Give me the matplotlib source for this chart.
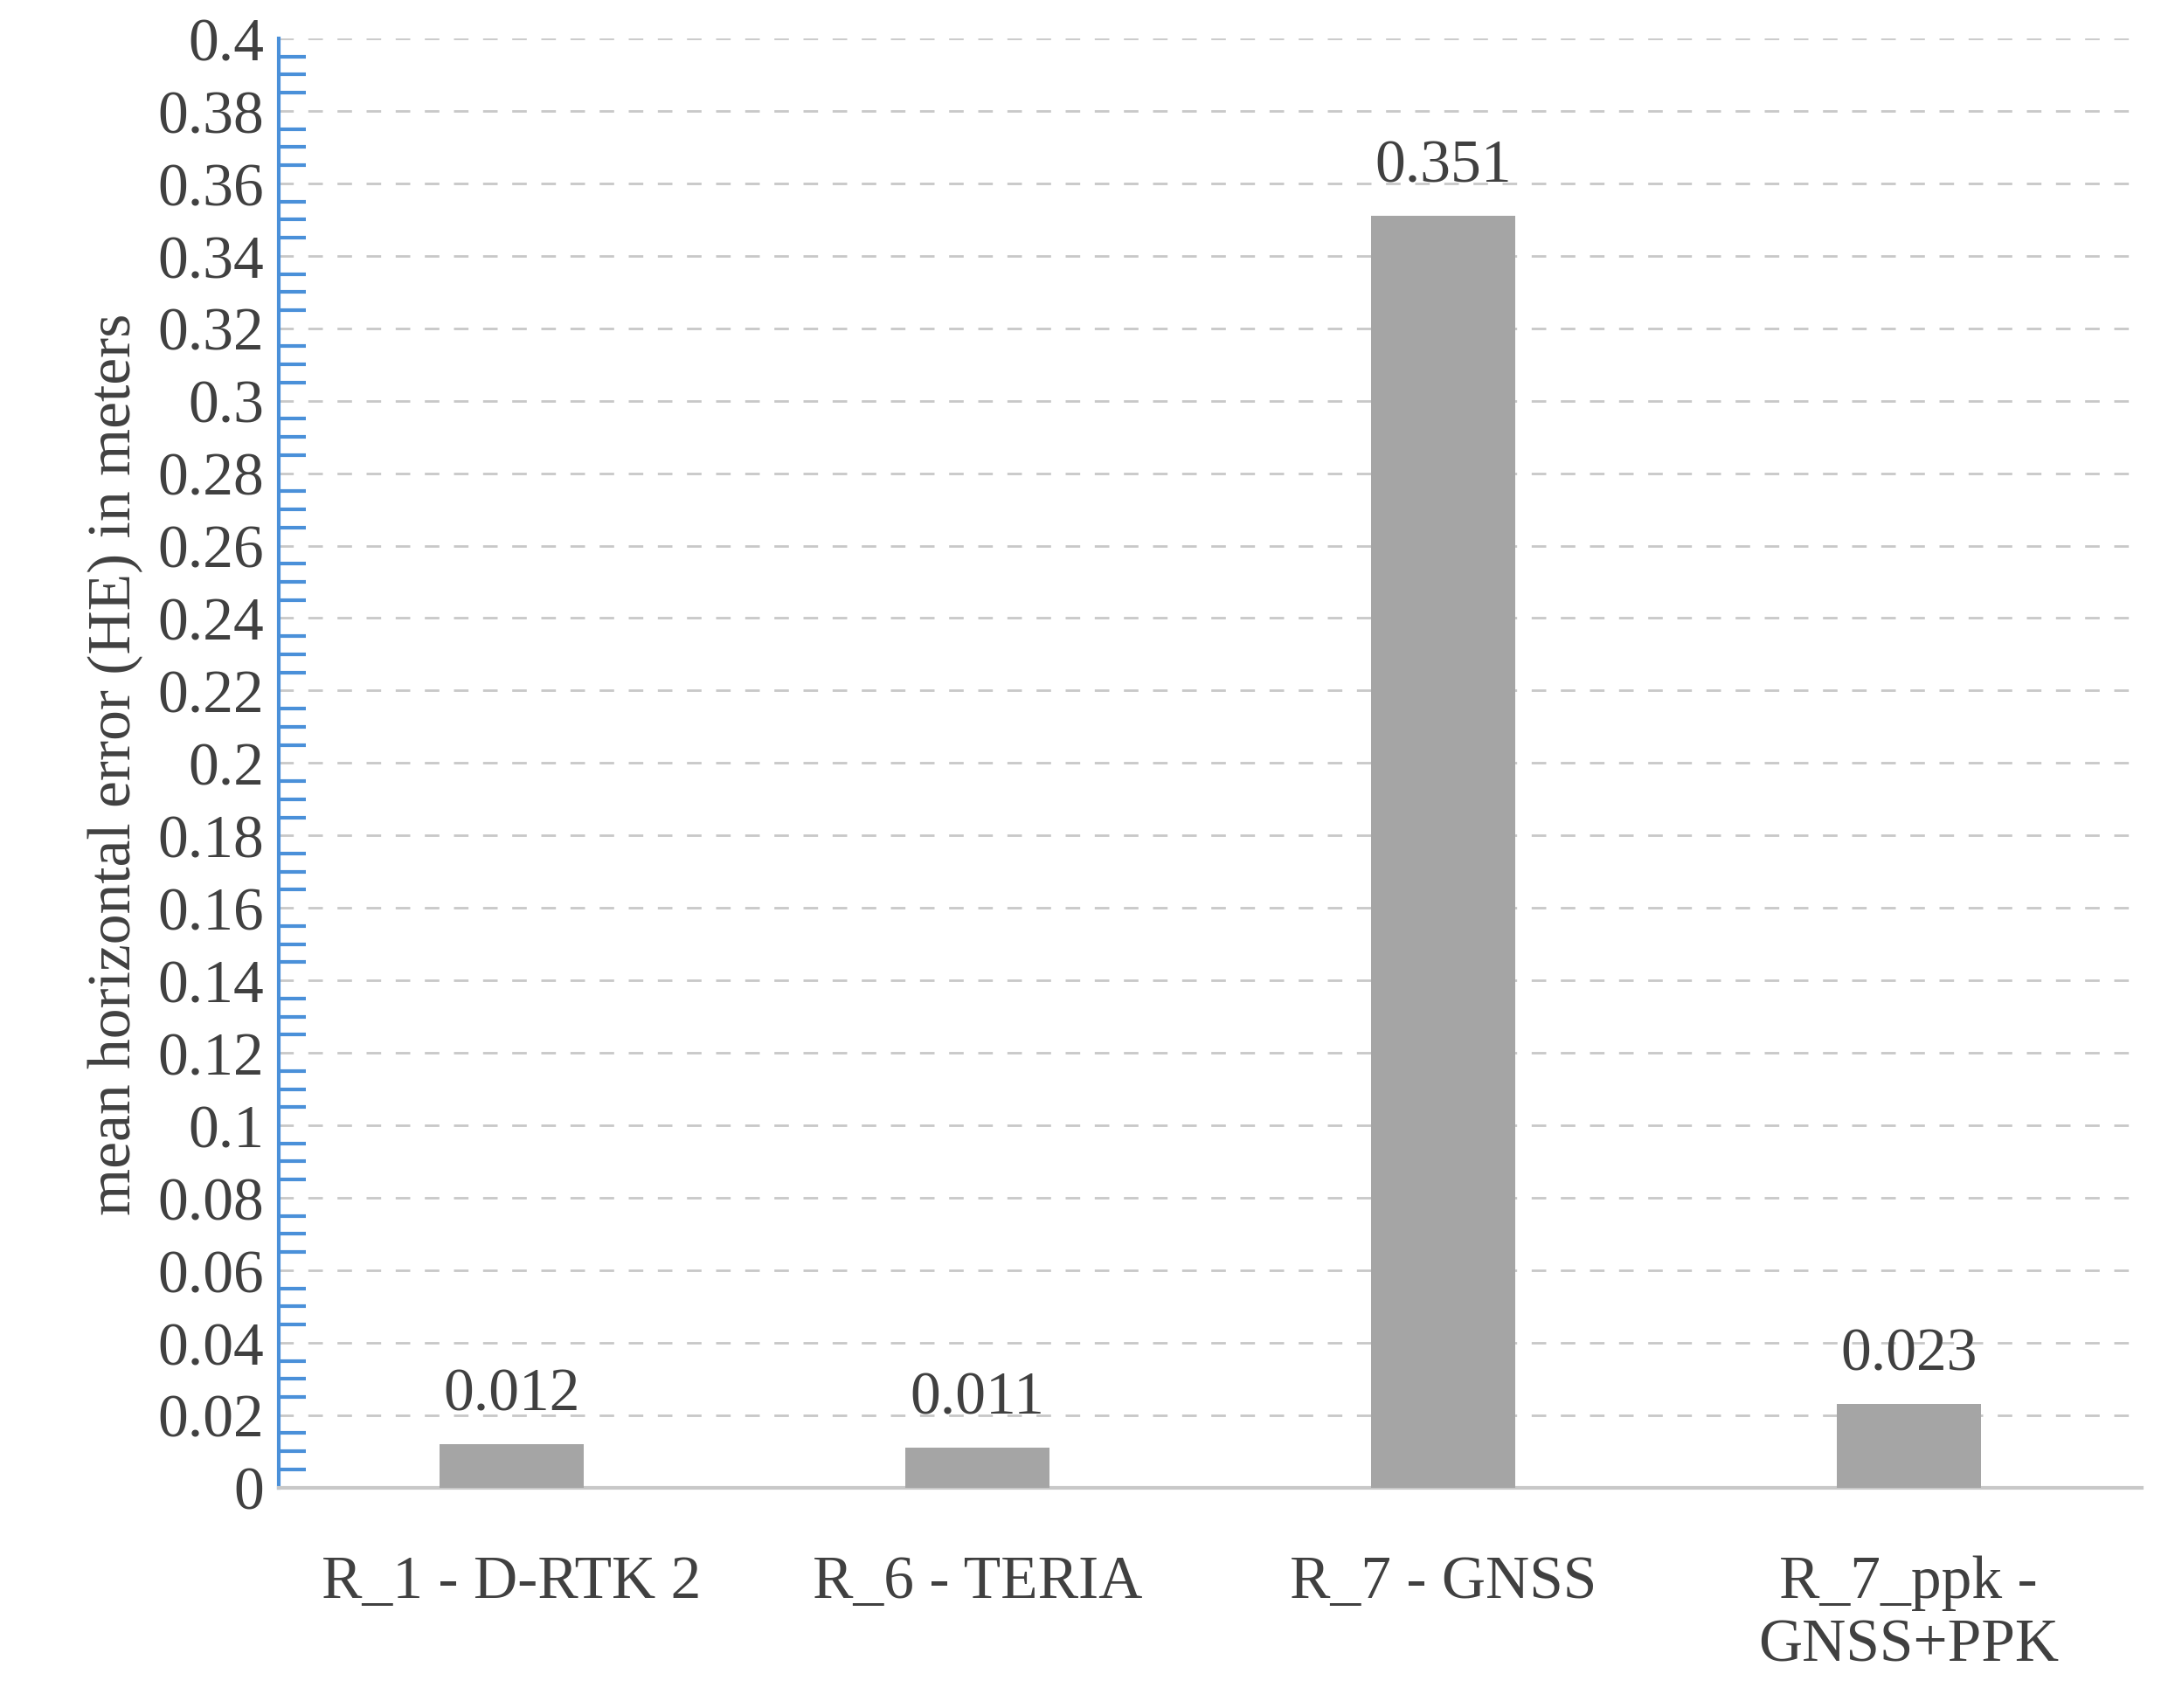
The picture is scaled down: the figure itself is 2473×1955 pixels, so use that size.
import matplotlib
matplotlib.use("Agg")
import matplotlib.pyplot as plt
import numpy as np

categories = ["R_1 - D-RTK 2", "R_6 - TERIA", "R_7 - GNSS", "R_7_ppk -\nGNSS+PPK"]
values = [0.012, 0.011, 0.351, 0.023]
labels = ["0.012", "0.011", "0.351", "0.023"]
yticks = [round(0.02 * i, 2) for i in range(21)]
ytick_labels = ["0" if v == 0 else ("%g" % v) for v in yticks]

plt.rcParams['font.family'] = ['Liberation Serif', 'DejaVu Serif']
fig = plt.figure(figsize=(24.73, 19.56), dpi=100)
ax = fig.add_axes([0.129, 0.129, 0.862, 0.848])
x = np.arange(len(categories))
ax.bar(x, values, width=0.31, color='#a5a5a5', zorder=3)
for xi, v, t in zip(x, values, labels):
    ax.text(xi, v + 0.006, t, ha='center', va='bottom', fontsize=50, color='#404040', zorder=4)
ax.set_ylim(0, 0.4)
ax.set_xlim(-0.5, 3.5)
ax.set_yticks(yticks)
ax.set_yticklabels(ytick_labels, fontsize=50, color='#404040')
ax.set_yticks(np.arange(0, 0.4001, 0.005), minor=True)
ax.tick_params(axis='y', which='both', direction='in', color='#4a90d9', width=3, length=22, pad=12)
ax.tick_params(axis='y', which='major', length=0)
ax.set_xticks(x)
ax.set_xticklabels(categories, fontsize=50, color='#404040')
ax.tick_params(axis='x', length=0, pad=55)
ax.grid(axis='y', linestyle=(0, (6, 6)), color='#c8c8c8', linewidth=2, zorder=0)
for s in ['top', 'right']:
    ax.spines[s].set_visible(False)
ax.spines['left'].set_color('#4a90d9')
ax.spines['left'].set_linewidth(3)
ax.spines['bottom'].set_color('#c8c8c8')
ax.spines['bottom'].set_linewidth(3)
ax.set_ylabel("mean horizontal error (HE) in meters", fontsize=50, color='#404040', labelpad=12)
fig.savefig("out.png", dpi=100)
